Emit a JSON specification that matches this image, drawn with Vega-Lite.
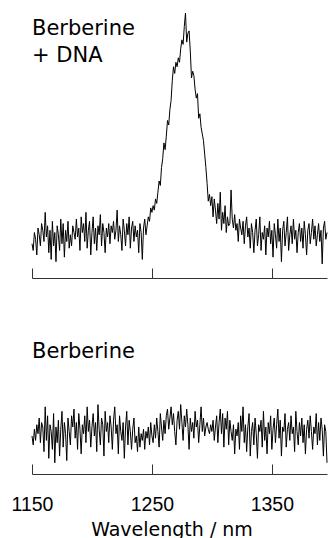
{
"$schema": "https://vega.github.io/schema/vega-lite/v6.json",
"padding": {"left": 11, "top": 0, "right": 0, "bottom": 0},
"background": "white",
"spacing": 2,
"config": {"view": {"stroke": null}, "font": "Liberation Sans"},
"datasets": {"spec": [
{"w":1150,"t":-3,"b":0},{"w":1151,"t":-6,"b":-4},{"w":1152,"t":2,"b":3},{"w":1153,"t":-1,"b":-2},{"w":1154,"t":-8,"b":5},
{"w":1155,"t":4,"b":1},{"w":1156,"t":1,"b":8},{"w":1157,"t":-4,"b":-3},{"w":1158,"t":6,"b":6},{"w":1159,"t":3,"b":4},
{"w":1160,"t":-2,"b":-7},{"w":1161,"t":11,"b":13},{"w":1162,"t":0,"b":-2},{"w":1163,"t":5,"b":9},{"w":1164,"t":-7,"b":-10},
{"w":1165,"t":3,"b":5},{"w":1166,"t":-10,"b":2},{"w":1167,"t":7,"b":-6},{"w":1168,"t":-4,"b":10},{"w":1169,"t":2,"b":-12},
{"w":1170,"t":-11,"b":4},{"w":1171,"t":5,"b":-3},{"w":1172,"t":1,"b":7},{"w":1173,"t":-6,"b":-9},{"w":1174,"t":8,"b":3},
{"w":1175,"t":-3,"b":11},{"w":1176,"t":6,"b":-5},{"w":1177,"t":-9,"b":6},{"w":1178,"t":3,"b":1},{"w":1179,"t":-2,"b":-11},
{"w":1180,"t":7,"b":8},{"w":1181,"t":-5,"b":2},{"w":1182,"t":1,"b":-4},{"w":1183,"t":-4,"b":9},{"w":1184,"t":5,"b":4},
{"w":1185,"t":2,"b":12},{"w":1186,"t":-1,"b":-1},{"w":1187,"t":8,"b":6},{"w":1188,"t":0,"b":-6},{"w":1189,"t":4,"b":10},
{"w":1190,"t":-6,"b":3},{"w":1191,"t":9,"b":-8},{"w":1192,"t":2,"b":5},{"w":1193,"t":6,"b":1},{"w":1194,"t":-2,"b":9},
{"w":1195,"t":11,"b":-3},{"w":1196,"t":-5,"b":13},{"w":1197,"t":3,"b":2},{"w":1198,"t":7,"b":7},{"w":1199,"t":-8,"b":-5},
{"w":1200,"t":2,"b":4},{"w":1201,"t":9,"b":10},{"w":1202,"t":-3,"b":0},{"w":1203,"t":4,"b":6},{"w":1204,"t":-6,"b":-7},
{"w":1205,"t":5,"b":14},{"w":1206,"t":1,"b":3},{"w":1207,"t":10,"b":-4},{"w":1208,"t":-4,"b":8},{"w":1209,"t":6,"b":5},
{"w":1210,"t":2,"b":-9},{"w":1211,"t":-7,"b":11},{"w":1212,"t":4,"b":2},{"w":1213,"t":0,"b":6},{"w":1214,"t":6,"b":-3},
{"w":1215,"t":-3,"b":9},{"w":1216,"t":5,"b":4},{"w":1217,"t":2,"b":-6},{"w":1218,"t":7,"b":7},{"w":1219,"t":-1,"b":13},
{"w":1220,"t":3,"b":1},{"w":1221,"t":12,"b":5},{"w":1222,"t":-2,"b":-8},{"w":1223,"t":5,"b":9},{"w":1224,"t":1,"b":2},
{"w":1225,"t":-6,"b":-2},{"w":1226,"t":8,"b":6},{"w":1227,"t":3,"b":-10},{"w":1228,"t":-4,"b":4},{"w":1229,"t":6,"b":11},
{"w":1230,"t":1,"b":-4},{"w":1231,"t":9,"b":7},{"w":1232,"t":-5,"b":2},{"w":1233,"t":4,"b":-6},{"w":1234,"t":7,"b":3},
{"w":1235,"t":-2,"b":8},{"w":1236,"t":5,"b":-3},{"w":1237,"t":0,"b":0},{"w":1238,"t":3,"b":-7},{"w":1239,"t":-7,"b":4},
{"w":1240,"t":6,"b":-5},{"w":1241,"t":2,"b":1},{"w":1242,"t":-10,"b":-2},{"w":1243,"t":4,"b":3},{"w":1244,"t":8,"b":-6},
{"w":1245,"t":1,"b":2},{"w":1246,"t":5,"b":-1},{"w":1247,"t":9,"b":4},{"w":1248,"t":7,"b":-4},{"w":1249,"t":13,"b":6},
{"w":1250,"t":11,"b":0},{"w":1251,"t":14,"b":-3},{"w":1252,"t":12,"b":5},{"w":1253,"t":17,"b":-1},{"w":1254,"t":15,"b":8},
{"w":1255,"t":20,"b":2},{"w":1256,"t":25,"b":-5},{"w":1257,"t":23,"b":10},{"w":1258,"t":31,"b":4},{"w":1259,"t":35,"b":-2},
{"w":1260,"t":42,"b":7},{"w":1261,"t":39,"b":1},{"w":1262,"t":45,"b":9},{"w":1263,"t":52,"b":12},{"w":1264,"t":50,"b":3},
{"w":1265,"t":57,"b":8},{"w":1266,"t":61,"b":13},{"w":1267,"t":70,"b":5},{"w":1268,"t":76,"b":10},{"w":1269,"t":73,"b":2},
{"w":1270,"t":78,"b":-4},{"w":1271,"t":76,"b":7},{"w":1272,"t":80,"b":11},{"w":1273,"t":78,"b":3},{"w":1274,"t":84,"b":14},
{"w":1275,"t":88,"b":6},{"w":1276,"t":86,"b":-2},{"w":1277,"t":94,"b":9},{"w":1278,"t":100,"b":4},{"w":1279,"t":87,"b":12},
{"w":1280,"t":91,"b":5},{"w":1281,"t":92,"b":-6},{"w":1282,"t":83,"b":8},{"w":1283,"t":71,"b":2},{"w":1284,"t":74,"b":6},
{"w":1285,"t":72,"b":-1},{"w":1286,"t":66,"b":11},{"w":1287,"t":62,"b":4},{"w":1288,"t":64,"b":7},{"w":1289,"t":53,"b":-3},
{"w":1290,"t":55,"b":5},{"w":1291,"t":49,"b":13},{"w":1292,"t":46,"b":2},{"w":1293,"t":43,"b":8},{"w":1294,"t":37,"b":0},
{"w":1295,"t":31,"b":4},{"w":1296,"t":24,"b":6},{"w":1297,"t":16,"b":3},{"w":1298,"t":19,"b":1},{"w":1299,"t":14,"b":5},
{"w":1300,"t":18,"b":2},{"w":1301,"t":9,"b":7},{"w":1302,"t":17,"b":-2},{"w":1303,"t":12,"b":4},{"w":1304,"t":6,"b":9},
{"w":1305,"t":15,"b":-3},{"w":1306,"t":8,"b":6},{"w":1307,"t":20,"b":12},{"w":1308,"t":3,"b":1},{"w":1309,"t":11,"b":10},
{"w":1310,"t":6,"b":-5},{"w":1311,"t":14,"b":8},{"w":1312,"t":2,"b":3},{"w":1313,"t":9,"b":11},{"w":1314,"t":5,"b":-4},
{"w":1315,"t":6,"b":7},{"w":1316,"t":21,"b":2},{"w":1317,"t":8,"b":-2},{"w":1318,"t":4,"b":5},{"w":1319,"t":10,"b":-8},
{"w":1320,"t":3,"b":3},{"w":1321,"t":6,"b":0},{"w":1322,"t":-2,"b":6},{"w":1323,"t":8,"b":-6},{"w":1324,"t":4,"b":9},
{"w":1325,"t":1,"b":2},{"w":1326,"t":7,"b":13},{"w":1327,"t":-3,"b":-3},{"w":1328,"t":5,"b":5},{"w":1329,"t":9,"b":-7},
{"w":1330,"t":0,"b":4},{"w":1331,"t":4,"b":10},{"w":1332,"t":-5,"b":-9},{"w":1333,"t":6,"b":2},{"w":1334,"t":2,"b":6},
{"w":1335,"t":-7,"b":-4},{"w":1336,"t":3,"b":8},{"w":1337,"t":8,"b":1},{"w":1338,"t":-4,"b":-10},{"w":1339,"t":1,"b":5},
{"w":1340,"t":9,"b":2},{"w":1341,"t":-6,"b":7},{"w":1342,"t":2,"b":-5},{"w":1343,"t":-1,"b":11},{"w":1344,"t":5,"b":-2},
{"w":1345,"t":-8,"b":4},{"w":1346,"t":4,"b":-8},{"w":1347,"t":0,"b":6},{"w":1348,"t":7,"b":1},{"w":1349,"t":-3,"b":9},
{"w":1350,"t":3,"b":-6},{"w":1351,"t":-9,"b":3},{"w":1352,"t":6,"b":8},{"w":1353,"t":1,"b":-3},{"w":1354,"t":-5,"b":5},
{"w":1355,"t":8,"b":12},{"w":1356,"t":-2,"b":-1},{"w":1357,"t":4,"b":7},{"w":1358,"t":-11,"b":-9},{"w":1359,"t":3,"b":4},
{"w":1360,"t":7,"b":2},{"w":1361,"t":-4,"b":10},{"w":1362,"t":2,"b":-5},{"w":1363,"t":9,"b":3},{"w":1364,"t":-6,"b":6},
{"w":1365,"t":1,"b":-2},{"w":1366,"t":5,"b":9},{"w":1367,"t":-3,"b":1},{"w":1368,"t":8,"b":4},{"w":1369,"t":-1,"b":-7},
{"w":1370,"t":3,"b":11},{"w":1371,"t":-7,"b":2},{"w":1372,"t":2,"b":-4},{"w":1373,"t":6,"b":6},{"w":1374,"t":-2,"b":0},
{"w":1375,"t":4,"b":8},{"w":1376,"t":-5,"b":-3},{"w":1377,"t":7,"b":5},{"w":1378,"t":1,"b":-8},{"w":1379,"t":-8,"b":3},
{"w":1380,"t":3,"b":7},{"w":1381,"t":6,"b":-1},{"w":1382,"t":-3,"b":9},{"w":1383,"t":2,"b":2},{"w":1384,"t":8,"b":-6},
{"w":1385,"t":-1,"b":4},{"w":1386,"t":5,"b":1},{"w":1387,"t":-4,"b":10},{"w":1388,"t":1,"b":-4},{"w":1389,"t":6,"b":6},
{"w":1390,"t":-2,"b":-2},{"w":1391,"t":3,"b":8},{"w":1392,"t":-12,"b":3},{"w":1393,"t":4,"b":-9},{"w":1394,"t":7,"b":5},
{"w":1395,"t":-1,"b":2},{"w":1396,"t":2,"b":-12}
]},
"vconcat": [
{
"width": 295, "height": 278,
"layer": [
{"data": {"name": "spec"},
 "mark": {"type": "line", "color": "black", "strokeWidth": 1},
 "encoding": {
  "x": {"field": "w", "type": "quantitative", "scale": {"domain": [1150, 1396], "nice": false, "zero": false},
        "axis": {"values": [1150, 1250, 1350], "labels": false, "title": null, "grid": false, "tickSize": -10, "domainColor": "#333333", "tickColor": "#333333", "domainWidth": 1, "tickWidth": 1}},
  "y": {"field": "t", "type": "quantitative", "scale": {"domain": [-18.3, 105.8], "nice": false, "zero": false}, "axis": null}
 }},
{"data": {"values": [{}]},
 "mark": {"type": "text", "align": "left", "baseline": "alphabetic", "font": "DejaVu Sans", "fontSize": 21, "lineHeight": 27, "color": "black"},
 "encoding": {
  "x": {"datum": 1150, "type": "quantitative"},
  "y": {"datum": 90.2, "type": "quantitative"},
  "text": {"value": ["Berberine", "+ DNA"]}
 }}
]
},
{
"width": 295, "height": 193,
"layer": [
{"data": {"name": "spec"},
 "mark": {"type": "line", "color": "black", "strokeWidth": 1},
 "encoding": {
  "x": {"field": "w", "type": "quantitative", "scale": {"domain": [1150, 1396], "nice": false, "zero": false},
        "axis": {"values": [1150, 1250, 1350], "format": "d", "title": "Wavelength / nm", "grid": false, "tickSize": -10, "domainColor": "#333333", "tickColor": "#333333", "domainWidth": 1, "tickWidth": 1,
                 "labelFont": "Liberation Sans", "labelFontSize": 19.5, "labelColor": "black", "labelBaseline": "alphabetic", "labelPadding": 46, "labelFlush": false, "labelOverlap": false,
                 "titleFont": "DejaVu Sans", "titleFontSize": 19, "titleFontWeight": "normal", "titleColor": "black", "titleX": 139.5, "titleY": 61, "titleBaseline": "alphabetic", "titleAlign": "center"}},
  "y": {"field": "b", "type": "quantitative", "scale": {"domain": [-17, 69.2], "nice": false, "zero": false}, "axis": null}
 }},
{"data": {"values": [{}]},
 "mark": {"type": "text", "align": "left", "baseline": "alphabetic", "font": "DejaVu Sans", "fontSize": 21, "color": "black"},
 "encoding": {
  "x": {"datum": 1150, "type": "quantitative"},
  "y": {"datum": 34.8, "type": "quantitative"},
  "text": {"value": "Berberine"}
 }}
]
}
]
}
